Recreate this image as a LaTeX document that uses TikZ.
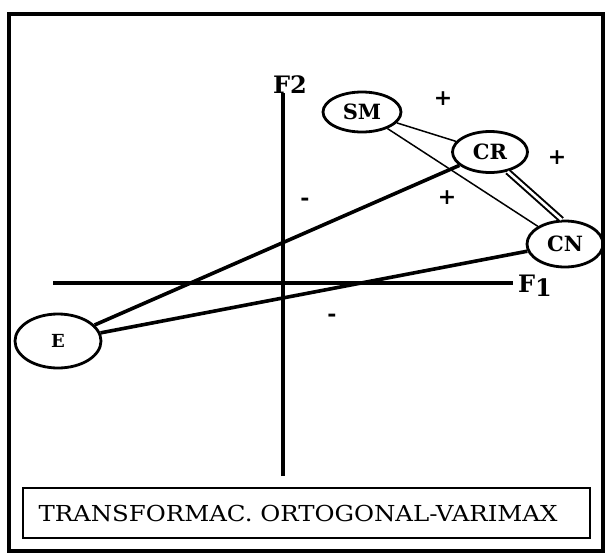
\documentclass[tikz,border=0pt]{standalone}
\usepackage{fontspec}
\setmainfont{DejaVu Serif}
\usetikzlibrary{shapes.geometric}

\begin{document}
\begin{tikzpicture}[
  x=1pt, y=-1pt,
  var/.style={draw, ellipse, line width=2.8pt, inner sep=0pt,
              font=\bfseries\fontsize{21}{21}\selectfont},
  axis/.style={line width=3.2pt},
  thinlink/.style={line width=1.5pt},
  thicklink/.style={line width=3.6pt},
  sign/.style={font=\bfseries\fontsize{22}{22}\selectfont, inner sep=0pt},
  axlabel/.style={font=\bfseries\fontsize{24}{24}\selectfont, inner sep=0pt}
]
\path[use as bounding box] (0,0) rectangle (606,555);
% frame and caption
\draw[line width=3.2pt] (9,14) rectangle (603,551);
\draw[line width=2.4pt] (23,488) rectangle (590,538);
\node[font=\fontsize{22}{22}\selectfont] (caption) at (298,513)
      {\scalebox{1.11}[1]{TRANSFORMAC. ORTOGONAL-VARIMAX}};
% axes
\coordinate (x0) at (53,283);
\coordinate (x1) at (513,283);
\coordinate (y0) at (283,476);
\coordinate (y1) at (283,93);
\draw[axis] (x0) -- (x1);
\draw[axis] (y0) -- (y1);
\node[axlabel, anchor=west] (f1) at (518,286) {F\raisebox{-0.3ex}{1}};
\node[axlabel, anchor=south] (f2) at (290,94) {F\raisebox{0.05ex}{2}};
% variables
\node[var, minimum width=78pt, minimum height=40pt] (SM) at (362,112) {SM};
\node[var, minimum width=75pt, minimum height=41pt] (CR) at (490,152) {CR};
\node[var, minimum width=76pt, minimum height=46pt] (CN) at (565,244) {CN};
\node[var, minimum width=86pt, minimum height=54pt,
      font=\bfseries\fontsize{18}{18}\selectfont] (E) at (58,341) {E};
% links
\draw[thinlink] (SM) -- (CR);
\draw[thinlink] (SM) -- (CN);
\draw[line width=2pt, double=white, double distance=2.6pt] (CR.-48) -- (CN.98);
\draw[thicklink] (E) -- (CR);
\draw[thicklink] (E) -- (CN);
% signs
\node[sign] (p1) at (443,99) {+};
\node[sign] (p2) at (557,158) {+};
\node[sign] (p3) at (447,198) {+};
\node[sign] (m1) at (305,202) {-};
\node[sign] (m2) at (332,318) {-};
\end{tikzpicture}
\end{document}
